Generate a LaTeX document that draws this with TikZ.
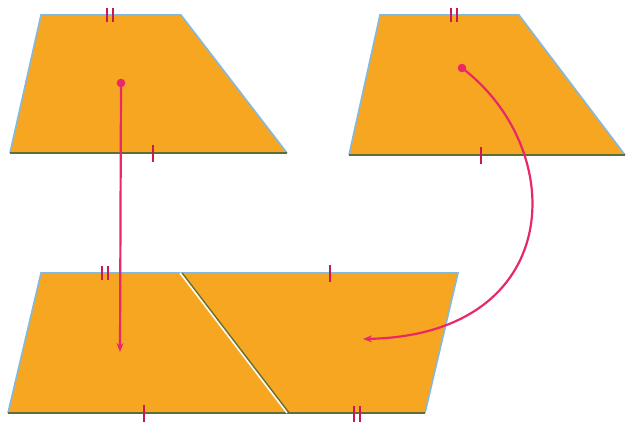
\documentclass[tikz,border=0pt]{standalone}
\usetikzlibrary{arrows.meta}
\definecolor{shapefill}{RGB}{247,166,33}
\definecolor{edgeblue}{RGB}{130,185,225}
\definecolor{edgeolive}{RGB}{95,110,55}
\definecolor{tickred}{RGB}{200,25,80}
\definecolor{arrowpink}{RGB}{232,40,105}
\tikzset{
  piece/.style={fill=shapefill, draw=none},
  sideedge/.style={draw=edgeblue, line width=1.6pt},
  baseedge/.style={draw=edgeolive, line width=1.5pt},
  tickmark/.style={draw=tickred, line width=2.3pt},
  arr/.style={draw=arrowpink, line width=2.2pt, -{Stealth[length=9pt,width=7pt]}},
  dotmark/.style={fill=arrowpink}
}
\begin{document}
\begin{tikzpicture}[x=1pt,y=-1pt]
\useasboundingbox (0,0) rectangle (628,422);
% top-left trapezoid
\fill[piece] (10,153) -- (287,153) -- (181,15) -- (41,15) -- cycle;
\draw[sideedge] (10,153) -- (41,15) -- (181,15) -- (287,153);
\draw[baseedge] (10,153) -- (287,153);
% top-right trapezoid
\fill[piece] (349,155) -- (625,155) -- (519,15) -- (380,15) -- cycle;
\draw[sideedge] (349,155) -- (380,15) -- (519,15) -- (625,155);
\draw[baseedge] (349,155) -- (625,155);
% bottom parallelogram: two pieces
\fill[piece] (8,413) -- (287,413) -- (180,273) -- (41,273) -- cycle;
\fill[piece] (180,273) -- (458,273) -- (425,413) -- (287,413) -- cycle;
\draw[sideedge] (8,413) -- (41,273) -- (458,273) -- (425,413);
\draw[baseedge] (8,413) -- (425,413);
\draw[draw=edgeolive, line width=1.3pt] (182.2,273) -- (289.2,413);
\draw[draw=white, line width=1.5pt] (180,273) -- (287,413);
% tick marks
\draw[tickmark] (107,8) -- (107,22) (113,8) -- (113,22);
\draw[tickmark] (153,145) -- (153,162);
\draw[tickmark] (451,8) -- (451,22) (457,8) -- (457,22);
\draw[tickmark] (481,147) -- (481,164);
\draw[tickmark] (102,266) -- (102,280) (108,266) -- (108,280);
\draw[tickmark] (144,405) -- (144,422);
\draw[tickmark] (330,265) -- (330,282);
\draw[tickmark] (354,406) -- (354,422) (360,406) -- (360,422);
% arrows
\coordinate (d1) at (121,83);
\coordinate (e1) at (120,352);
\coordinate (d2) at (462,68);
\coordinate (e2) at (363,339);
\draw[arr] (d1) -- (e1);
\draw[arr] (d2) .. controls (570,150) and (565,335) .. (e2);
\fill[dotmark] (d1) circle (4.3);
\fill[dotmark] (d2) circle (4.3);
\end{tikzpicture}
\end{document}
